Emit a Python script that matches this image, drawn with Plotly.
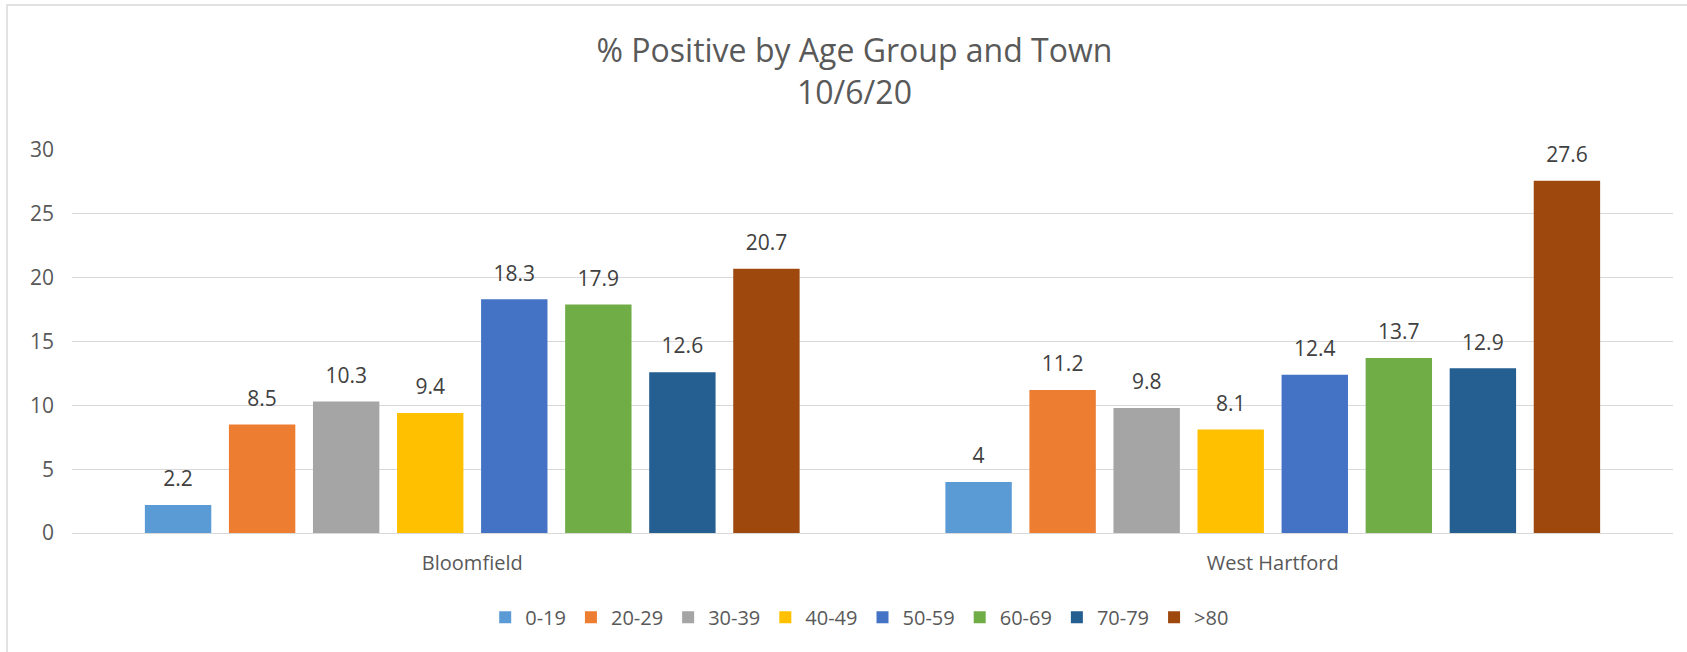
import plotly.graph_objects as go

# data
towns = ["Bloomfield", "West Hartford"]
age_groups = ["0-19", "20-29", "30-39", "40-49", "50-59", "60-69", "70-79", ">80"]
pct_positive = {
    "0-19": [2.2, 4],
    "20-29": [8.5, 11.2],
    "30-39": [10.3, 9.8],
    "40-49": [9.4, 8.1],
    "50-59": [18.3, 12.4],
    "60-69": [17.9, 13.7],
    "70-79": [12.6, 12.9],
    ">80": [20.7, 27.6],
}
colors = ["#5B9BD5", "#ED7D31", "#A5A5A5", "#FFC000",
          "#4472C4", "#70AD47", "#255E91", "#9E480E"]

FONT = "Open Sans"
TEXT = "#595959"
GRID = "#D9D9D9"

fig = go.Figure()

for grp, col in zip(age_groups, colors):
    fig.add_trace(go.Bar(
        x=towns,
        y=pct_positive[grp],
        name=grp,
        marker=dict(color=col, line=dict(width=0)),
    ))

# value labels, sitting a bit above each bar
for grp in age_groups:
    vals = pct_positive[grp]
    fig.add_trace(go.Scatter(
        x=towns,
        y=vals,
        mode="markers+text",
        text=[f"{v:g}" for v in vals],
        textposition="top center",
        textfont=dict(family=FONT, size=21, color="#404040"),
        marker=dict(size=20, opacity=0),
        cliponaxis=False,
        showlegend=False,
        hoverinfo="skip",
    ))

fig.update_layout(
    width=1687,
    height=652,
    paper_bgcolor="white",
    plot_bgcolor="white",
    font=dict(family=FONT, color=TEXT, size=20),
    title=dict(
        text="% Positive by Age Group and Town<br>10/6/20",
        x=0.5065, xanchor="center",
        y=1 - 62 / 652, yanchor="middle", yref="container",
        font=dict(family=FONT, size=32, color=TEXT),
    ),
    barmode="group",
    bargap=0.16,
    bargroupgap=0.21,
    scattermode="group",
    scattergap=0.16,
    margin=dict(l=72, r=14, t=150, b=119),
    showlegend=True,
    legend=dict(
        orientation="h",
        x=0.492, xanchor="center",
        y=-0.22, yanchor="middle",
        font=dict(family=FONT, size=20, color=TEXT),
        traceorder="normal",
    ),
    xaxis=dict(
        showgrid=False,
        showline=False,
        ticks="",
        ticklabelstandoff=16,
        tickfont=dict(size=20, color=TEXT),
    ),
    yaxis=dict(
        range=[0, 30],
        dtick=5,
        showgrid=True,
        gridcolor=GRID,
        gridwidth=1.3,
        zeroline=True,
        zerolinecolor=GRID,
        zerolinewidth=1.3,
        showline=False,
        ticks="",
        ticklabelstandoff=17,
        tickfont=dict(size=21, color=TEXT),
    ),
    shapes=[dict(
        type="rect", xref="paper", yref="paper",
        x0=-0.0406, x1=1.02, y0=-0.35, y1=1.3786,
        line=dict(color=GRID, width=1.5),
        fillcolor="rgba(0,0,0,0)",
        layer="below",
    )],
)

# drop the default 8px page margin so the figure sits at the window corner
fig.write_html("out.html", config={"displayModeBar": False},
               post_script="document.body.style.margin='0';")
